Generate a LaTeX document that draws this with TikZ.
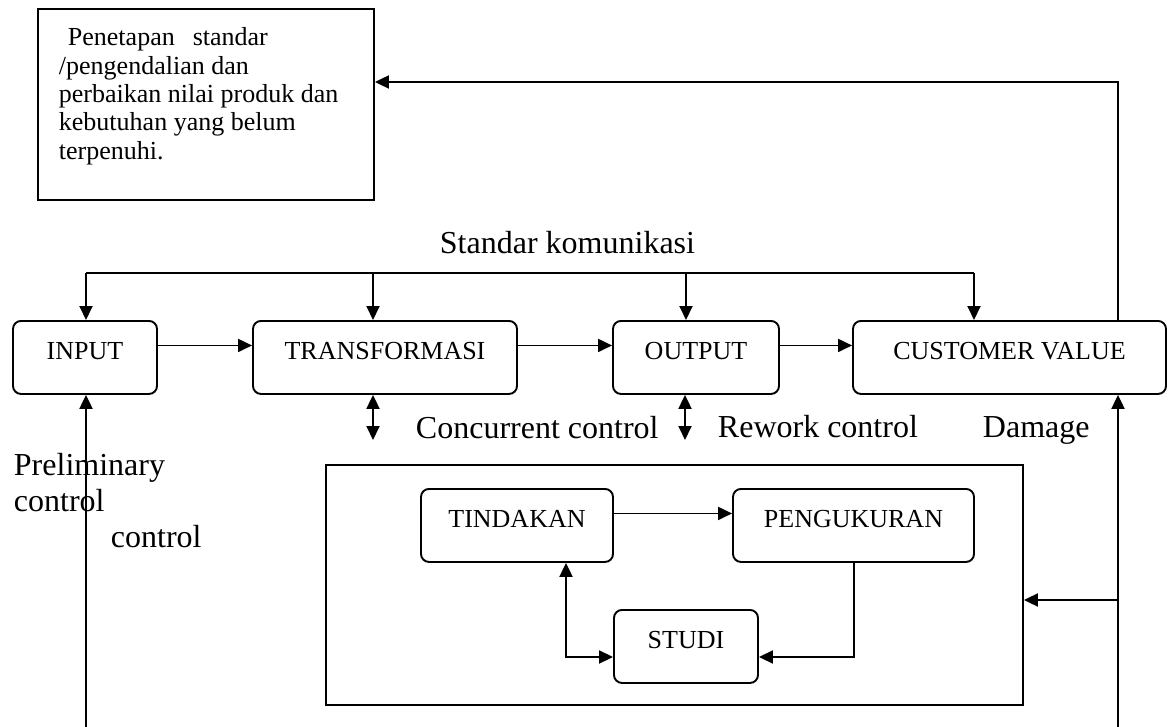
\documentclass[tikz,border=0pt]{standalone}
\usepackage{fontspec}
\setmainfont{Liberation Serif}
\usetikzlibrary{arrows.meta}
\begin{document}
\begin{tikzpicture}[x=1bp,y=-1bp,line width=1.9bp,
  >={Triangle[length=14bp,width=13bp]},
  box/.style={draw,rounded corners=8bp,inner sep=0pt,text height=39bp,text depth=34bp,
    anchor=north,font=\fontsize{26bp}{28bp}\selectfont},
  lab/.style={inner sep=0pt,anchor=base west,font=\fontsize{32bp}{36bp}\selectfont},
  frame/.style={draw,inner sep=0pt,anchor=north west}]
\useasboundingbox (0,0) rectangle (1168,727);
% goal box
\node[frame,minimum width=336bp,minimum height=191bp] (goal) at (37,8) {};
\node[anchor=north west,align=left,inner sep=0pt,font=\fontsize{26bp}{28.3bp}\selectfont] (goaltext) at (58,27)
 {\hspace*{9bp}Penetapan\hspace{18bp}standar\\/pengendalian dan\\perbaikan nilai produk dan\\kebutuhan yang belum\\terpenuhi.};
% main row
\node[box,minimum width=144bp] (input) at (85,320) {INPUT};
\node[box,minimum width=264bp] (trans) at (385,320) {TRANSFORMASI};
\node[box,minimum width=166bp] (output) at (696,320) {OUTPUT};
\node[box,minimum width=313bp] (cv) at (1009.5,320) {CUSTOMER VALUE};
% control loop
\node[frame,minimum width=697bp,minimum height=240bp] (big) at (325,464) {};
\node[box,minimum width=192bp] (tind) at (517,488) {TINDAKAN};
\node[box,minimum width=241bp] (peng) at (853.5,488) {PENGUKURAN};
\node[box,minimum width=144bp] (studi) at (686,609) {STUDI};
% labels
\node[lab] (std) at (439,253) {Standar komunikasi};
\node[lab] (conc) at (415,438) {Concurrent control};
\node[lab] (rew) at (717,437) {Rework control};
\node[lab] (dmg) at (982,437) {Damage};
\node[lab] (pre1) at (13,475) {Preliminary};
\node[lab] (pre2) at (13,511) {control};
\node[lab] (pre3) at (110,547) {control};
% row arrows
\draw[->] ([yshift=12bp]input.east) -- ([yshift=12bp]trans.west);
\draw[->] ([yshift=12bp]trans.east) -- ([yshift=12bp]output.west);
\draw[->] ([yshift=12bp]output.east) -- ([yshift=12bp]cv.west);
% bus
\coordinate (b1) at (86,273);
\coordinate (b2) at (373,273);
\coordinate (b3) at (686,273);
\coordinate (b4) at (974,273);
\draw (b1) -- (b4);
\draw[->] (b1) -- (b1 |- input.north);
\draw[->] (b2) -- (b2 |- trans.north);
\draw[->] (b3) -- (b3 |- output.north);
\draw[->] (b4) -- (b4 |- cv.north);
% double arrows
\coordinate (c1) at (373,440);
\coordinate (c2) at (685,440);
\draw[<->] (c1 |- trans.south) -- (c1);
\draw[<->] (c2 |- output.south) -- (c2);
% feedback lines
\coordinate (l0) at (86,727);
\draw[->] (l0) -- (l0 |- input.south);
\coordinate (r0) at (1118,727);
\draw[->] (r0) -- (r0 |- cv.south);
\coordinate (r1) at (1118,600);
\draw[->] (r1) -- (r1 -| big.east);
\coordinate (t1) at (1118,82);
\draw[->] (t1 |- cv.north) -- (t1) -- (t1 -| goal.east);
% inner loop
\draw[->] ([yshift=12bp]tind.east) -- ([yshift=12bp]peng.west);
\coordinate (p1) at (854,657);
\draw[->] (p1 |- peng.south) -- (p1) -- (p1 -| studi.east);
\coordinate (q1) at (566,657);
\draw[<->] (q1 |- tind.south) -- (q1) -- (q1 -| studi.west);
\end{tikzpicture}
\end{document}
